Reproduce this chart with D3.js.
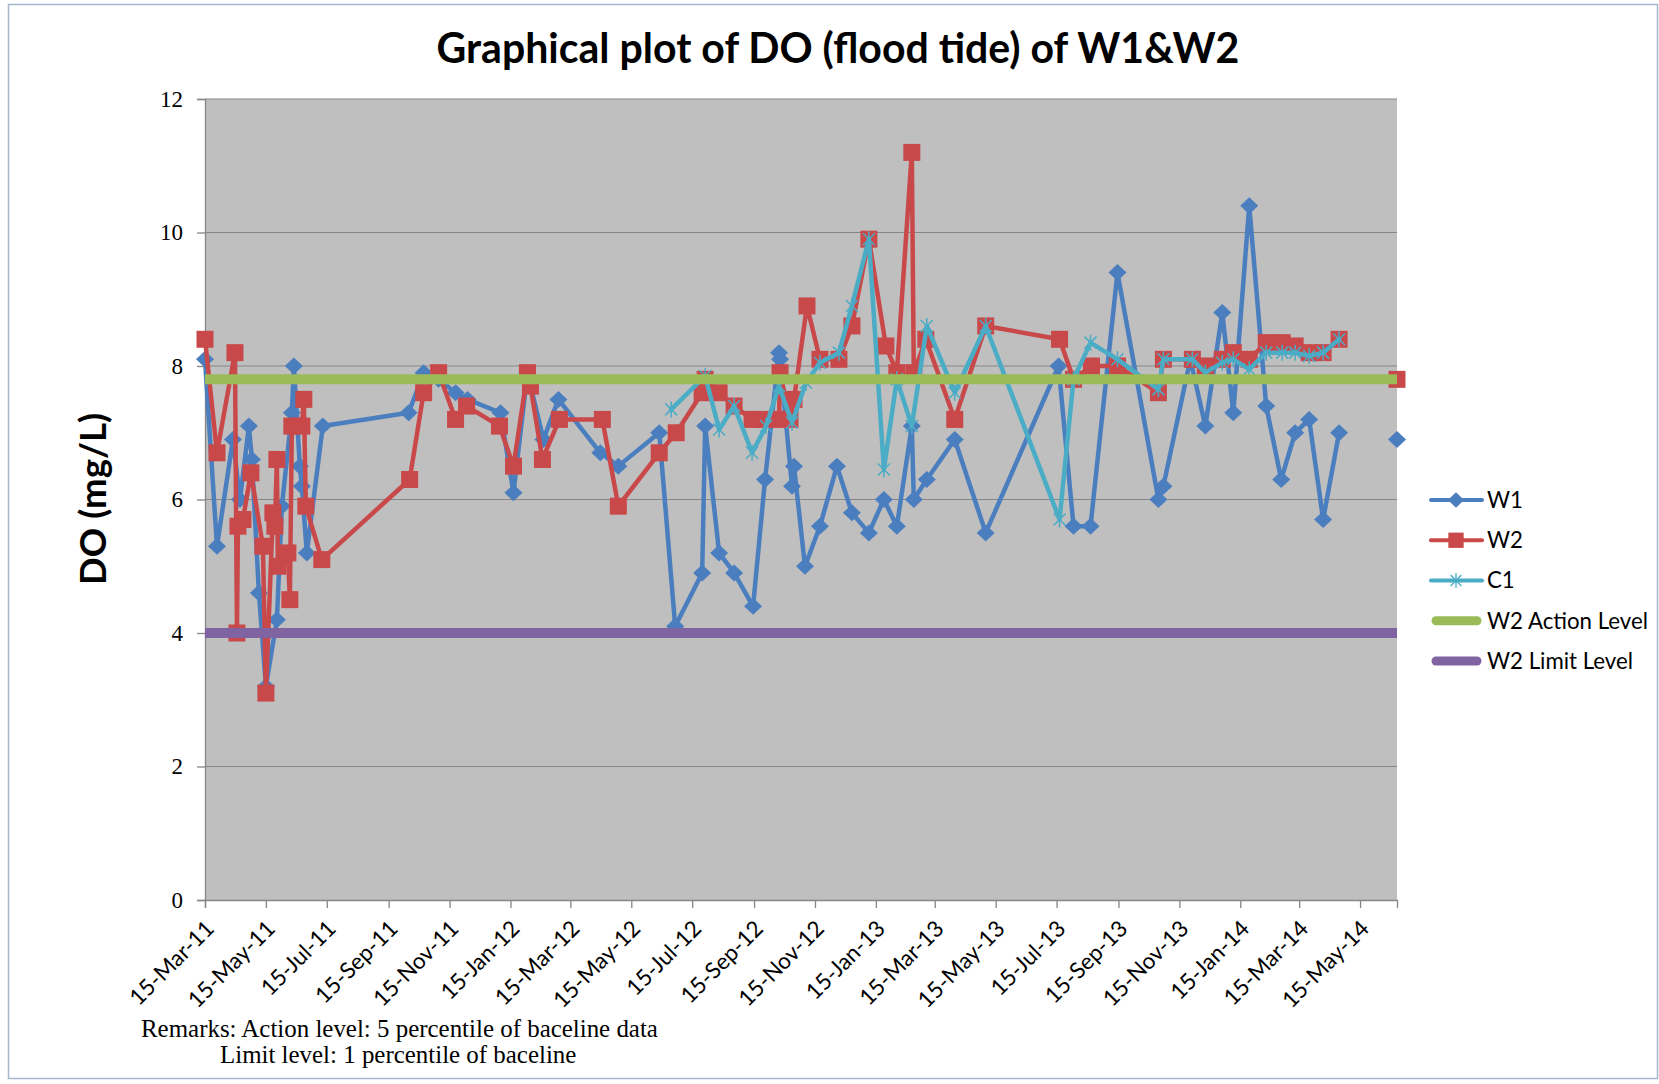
<!DOCTYPE html>
<html lang="en">
<head>
<meta charset="utf-8">
<style>
  body { margin: 0; background: #fff; }
  svg { display: block; }
</style>
</head>
<body>
<script src="https://d3js.org/d3.v7.min.js"></script>
<script>
// chart data
var chartTitle = "Graphical plot of DO (flood tide) of W1&W2";
var yTitle = "DO (mg/L)";
var yTicks = [0, 2, 4, 6, 8, 10, 12];
var xStart = "2011-03-15", xEnd = "2014-06-21";
var xTicks = ["2011-03-15", "2011-05-15", "2011-07-15", "2011-09-15", "2011-11-15",
  "2012-01-15", "2012-03-15", "2012-05-15", "2012-07-15", "2012-09-15", "2012-11-15",
  "2013-01-15", "2013-03-15", "2013-05-15", "2013-07-15", "2013-09-15", "2013-11-15",
  "2014-01-15", "2014-03-15", "2014-05-15"];

var w1Dates = ["2011-03-15", "2011-03-27", "2011-04-12", "2011-04-19", "2011-04-28", "2011-05-01",
  "2011-05-08", "2011-05-15", "2011-05-26", "2011-05-31", "2011-06-10", "2011-06-12", "2011-06-18",
  "2011-06-20", "2011-06-25", "2011-07-11",
  "2011-10-05", "2011-10-20", "2011-11-04", "2011-11-21", "2011-12-03", "2012-01-05", "2012-01-18",
  "2012-02-01", "2012-02-17", "2012-03-03", "2012-04-14", "2012-05-02", "2012-06-12", "2012-06-28",
  "2012-07-25", "2012-07-28", "2012-08-11", "2012-08-26", "2012-09-14", "2012-09-26", "2012-10-10",
  "2012-10-11", "2012-10-23", "2012-10-25", "2012-11-05", "2012-11-20", "2012-12-07", "2012-12-22",
  "2013-01-08", "2013-01-23", "2013-02-05", "2013-02-20", "2013-02-22", "2013-03-07", "2013-04-04",
  "2013-05-05", "2013-07-17", "2013-08-01", "2013-08-18", "2013-09-14", "2013-10-25", "2013-10-30",
  "2013-11-26", "2013-12-11", "2013-12-28", "2014-01-08", "2014-01-24", "2014-02-10", "2014-02-25",
  "2014-03-11", "2014-03-25", "2014-04-08", "2014-04-24", "2014-05-20", "2014-06-21"];
var w1Values = [8.1, 5.3, 6.9, 6.0, 7.1, 6.6, 4.6, 3.2, 4.2, 5.9, 7.3, 8.0, 6.5, 6.2, 5.2, 7.1,
  7.3, 7.9, 7.8, 7.6, 7.5, 7.3, 6.1, 7.9, 6.9, 7.5, 6.7, 6.5, 7.0, 4.1, 4.9, 7.1, 5.2, 4.9, 4.4,
  6.3, 8.2, 8.1, 6.2, 6.5, 5.0, 5.6, 6.5, 5.8, 5.5, 6.0, 5.6, 7.1, 6.0, 6.3, 6.9, 5.5, 8.0, 5.6,
  5.6, 9.4, 6.0, 6.2, 8.1, 7.1, 8.8, 7.3, 10.4, 7.4, 6.3, 7.0, 7.2, 5.7, 7.0, null, 6.9];

var w2Dates = ["2011-03-15", "2011-03-27", "2011-04-14", "2011-04-16", "2011-04-17", "2011-04-22",
  "2011-04-30", "2011-05-12", "2011-05-15", "2011-05-22", "2011-05-24", "2011-05-26", "2011-05-27",
  "2011-06-06", "2011-06-08", "2011-06-10", "2011-06-20", "2011-06-22", "2011-06-24", "2011-07-10",
  "2011-10-06", "2011-10-20", "2011-11-04", "2011-11-21", "2011-12-02", "2012-01-04", "2012-01-18",
  "2012-02-01", "2012-02-04", "2012-02-16", "2012-03-04", "2012-04-16", "2012-05-02", "2012-06-12",
  "2012-06-29", "2012-07-25", "2012-07-28", "2012-08-11", "2012-08-26", "2012-09-13", "2012-09-24",
  "2012-10-10", "2012-10-11", "2012-10-21", "2012-10-25", "2012-11-07", "2012-11-20", "2012-12-09",
  "2012-12-22", "2013-01-08", "2013-01-25", "2013-02-05", "2013-02-20", "2013-02-22", "2013-03-06",
  "2013-04-04", "2013-05-05", "2013-07-18", "2013-08-01", "2013-08-19", "2013-09-14", "2013-10-25",
  "2013-10-30", "2013-11-28", "2013-12-11", "2013-12-28", "2014-01-08", "2014-01-24", "2014-02-10",
  "2014-02-26", "2014-03-11", "2014-03-25", "2014-04-08", "2014-04-24", "2014-05-20", "2014-06-21"];
var w2Values = [8.4, 6.7, 8.2, 4.0, 5.6, 5.7, 6.4, 5.3, 3.1, 5.8, 5.6, 6.6, 5.0, 5.2, 4.5, 7.1,
  7.1, 7.5, 5.9, 5.1,
  6.3, 7.6, 7.9, 7.2, 7.4, 7.1, 6.5, 7.9, 7.7, 6.6, 7.2, 7.2, 5.9, 6.7, 7.0, 7.6, 7.8, 7.6, 7.4,
  7.2, 7.2, 7.2, 7.9, 7.2, 7.5, 8.9, 8.1, 8.1, 8.6, 9.9, 8.3, 7.9, 11.2, 7.9, 8.4, 7.2, 8.6, 8.4,
  7.8, 8.0, 8.0, 7.6, 8.1, 8.1, 8.0, 8.1, 8.2, 8.1, 8.35, 8.35, 8.3, 8.2, 8.2, 8.4, null, 7.8];

var c1Dates = ["2012-06-24", "2012-07-28", "2012-08-11", "2012-08-26", "2012-09-13", "2012-09-27",
  "2012-10-10", "2012-10-23", "2012-11-06", "2012-11-20", "2012-12-09", "2012-12-22", "2013-01-08",
  "2013-01-23", "2013-02-05", "2013-02-20", "2013-03-07", "2013-04-04", "2013-05-05", "2013-07-18",
  "2013-08-01", "2013-08-18", "2013-09-14", "2013-10-25", "2013-10-30", "2013-11-28", "2013-12-11",
  "2013-12-28", "2014-01-08", "2014-01-24", "2014-02-10", "2014-02-26", "2014-03-11", "2014-03-25",
  "2014-04-08", "2014-04-24"];
var c1Values = [7.35, 7.85, 7.05, 7.4, 6.7, 7.1, 7.7, 7.15, 7.75, 8.05, 8.2, 8.9, 9.9, 6.45, 7.8,
  7.1, 8.6, 7.6, 8.6, 5.7, 7.8, 8.35, 8.1, 7.65, 8.1, 8.1, 7.9, 8.05, 8.1, 7.95, 8.2, 8.2, 8.2,
  8.15, 8.2, 8.4];

var actionLevel = 7.8;
var limitLevel = 4;
var legendLabels = ["W1", "W2", "C1", "W2 Action Level", "W2 Limit Level"];
var remarks = ["Remarks: Action level: 5 percentile of baceline data",
  "Limit level: 1 percentile of baceline"];

var colors = { w1: "#4a7ebf", w2: "#c9484a", c1: "#4bacc6", action: "#9bbb59", limit: "#8064a2" };

var width = 1659, height = 1084;
var plotLeft = 205, plotRight = 1397, plotTop = 99, plotBottom = 900;

var svg = d3.select("body").append("svg")
  .attr("width", width)
  .attr("height", height);

// outer chart frame
svg.append("rect")
  .attr("x", 8.5).attr("y", 4.5)
  .attr("width", 1649).attr("height", 1074)
  .attr("fill", "#fff")
  .attr("stroke", "#a3b7cf")
  .attr("stroke-width", 1.5);

var parseDate = d3.timeParse("%Y-%m-%d");

var x = d3.scaleTime()
  .domain([parseDate(xStart), parseDate(xEnd)])
  .range([plotLeft, plotRight]);
var y = d3.scaleLinear()
  .domain([0, 12])
  .range([plotBottom, plotTop]);

// makes a font fit a measured width
function fitWidth(sel, target) {
  var w = sel.node().getComputedTextLength();
  var fs = parseFloat(sel.attr("font-size"));
  sel.attr("font-size", (fs * target / w).toFixed(2));
}

// plot area
svg.append("rect")
  .attr("x", x.range()[0]).attr("y", y(12))
  .attr("width", x.range()[1] - x.range()[0])
  .attr("height", y(0) - y(12))
  .attr("fill", "#bfbfbf");

svg.append("g").selectAll("line")
  .data(yTicks.filter(function (d) { return d > 0; }))
  .join("line")
  .attr("x1", plotLeft).attr("x2", plotRight)
  .attr("y1", function (d) { return y(d); })
  .attr("y2", function (d) { return y(d); })
  .attr("stroke", "#878787")
  .attr("stroke-width", 1.2);

// axes
var yAxis = svg.append("g")
  .attr("transform", "translate(" + plotLeft + ",0)")
  .call(d3.axisLeft(y).tickValues(yTicks).tickSize(8).tickPadding(14).tickFormat(d3.format("d")));
yAxis.selectAll("path, line").attr("stroke", "#868686").attr("stroke-width", 1.3);
yAxis.selectAll("text")
  .attr("font-family", "'Liberation Serif', serif")
  .attr("font-size", 23)
  .attr("fill", "#000");

var xAxis = svg.append("g")
  .attr("transform", "translate(0," + plotBottom + ")")
  .call(d3.axisBottom(x).tickValues(xTicks.map(parseDate)).tickSize(8)
    .tickFormat(d3.timeFormat("%d-%b-%y")));
xAxis.selectAll("path, line").attr("stroke", "#868686").attr("stroke-width", 1.3);
xAxis.selectAll("text")
  .attr("y", null).attr("dy", null)
  .attr("text-anchor", "end")
  .attr("transform", "translate(10,30) rotate(-45)")
  .attr("font-family", "Lato, sans-serif")
  .attr("font-size", 22.5)
  .attr("fill", "#000");

// series
function toPoints(dates, values) {
  return dates.map(function (d, i) { return { date: parseDate(d), value: values[i] }; });
}
var w1 = toPoints(w1Dates, w1Values);
var w2 = toPoints(w2Dates, w2Values);
var c1 = toPoints(c1Dates, c1Values);

var line = d3.line()
  .defined(function (d) { return d.value !== null; })
  .x(function (d) { return x(d.date); })
  .y(function (d) { return y(d.value); });

var diamond = "M0,-8.5L9,0L0,8.5L-9,0Z";
var square = "M-8.5,-8.5H8.5V8.5H-8.5Z";
var star = "M0,-8V8M-6,-6L6,6M-6,6L6,-6";

function drawSeries(data, color, marker, filled) {
  var g = svg.append("g");
  g.append("path")
    .datum(data)
    .attr("d", line)
    .attr("fill", "none")
    .attr("stroke", color)
    .attr("stroke-width", 4.5)
    .attr("stroke-linejoin", "round")
    .attr("stroke-linecap", "round");
  g.selectAll(".mk")
    .data(data.filter(function (d) { return d.value !== null; }))
    .join("path")
    .attr("class", "mk")
    .attr("transform", function (d) { return "translate(" + x(d.date) + "," + y(d.value) + ")"; })
    .attr("d", marker)
    .attr("fill", filled ? color : "none")
    .attr("stroke", color)
    .attr("stroke-width", filled ? 0 : 1.5);
}

drawSeries(w1, colors.w1, diamond, true);
drawSeries(w2, colors.w2, square, true);
drawSeries(c1, colors.c1, star, false);

// action and limit levels span the whole date range
[[actionLevel, colors.action], [limitLevel, colors.limit]].forEach(function (lv) {
  svg.append("line")
    .attr("x1", x(parseDate(xStart))).attr("x2", x(parseDate(xEnd)))
    .attr("y1", y(lv[0])).attr("y2", y(lv[0]))
    .attr("stroke", lv[1])
    .attr("stroke-width", 10);
});

// title
var title = svg.append("text")
  .attr("x", 838).attr("y", 63)
  .attr("text-anchor", "middle")
  .attr("font-family", "Lato, sans-serif")
  .attr("font-weight", "bold")
  .attr("font-size", 36)
  .attr("fill", "#000")
  .text(chartTitle);
fitWidth(title, 803);

var ylab = svg.append("text")
  .attr("transform", "translate(106,499) rotate(-90)")
  .attr("text-anchor", "middle")
  .attr("font-family", "Lato, sans-serif")
  .attr("font-weight", "bold")
  .attr("font-size", 36)
  .attr("fill", "#000")
  .text(yTitle);
fitWidth(ylab, 172);

// legend
var legendY = d3.scalePoint().domain(legendLabels).range([500, 661]);
var legendMarks = [
  { color: colors.w1, marker: diamond, filled: true, thick: false },
  { color: colors.w2, marker: square, filled: true, thick: false },
  { color: colors.c1, marker: star, filled: false, thick: false },
  { color: colors.action, marker: null, thick: true },
  { color: colors.limit, marker: null, thick: true }
];
var legend = svg.append("g");
var legendFont = 22;
legendLabels.forEach(function (lab, i) {
  var m = legendMarks[i];
  var ly = legendY(lab);
  legend.append("line")
    .attr("x1", m.thick ? 1436 : 1431).attr("x2", m.thick ? 1477 : 1482)
    .attr("y1", ly).attr("y2", ly)
    .attr("stroke", m.color)
    .attr("stroke-width", m.thick ? 9 : 4)
    .attr("stroke-linecap", "round");
  if (m.marker) {
    legend.append("path")
      .attr("transform", "translate(1456," + ly + ") scale(0.9)")
      .attr("d", m.marker)
      .attr("fill", m.filled ? m.color : "none")
      .attr("stroke", m.color)
      .attr("stroke-width", m.filled ? 0 : 1.5);
  }
  var t = legend.append("text")
    .attr("x", 1487).attr("y", ly)
    .attr("dy", "0.35em")
    .attr("font-family", "Lato, sans-serif")
    .attr("font-size", legendFont)
    .attr("fill", "#000")
    .text(lab);
  if (lab === "W2 Action Level") {
    fitWidth(t, 161);
    legendFont = +t.attr("font-size");
  }
});
legend.selectAll("text").attr("font-size", legendFont);

// remarks under the axis
var r1 = svg.append("text")
  .attr("x", 141).attr("y", 1037)
  .attr("font-family", "'Liberation Serif', serif")
  .attr("font-size", 22)
  .attr("fill", "#000")
  .text(remarks[0]);
fitWidth(r1, 517);
svg.append("text")
  .attr("x", 220).attr("y", 1063)
  .attr("font-family", "'Liberation Serif', serif")
  .attr("font-size", r1.attr("font-size"))
  .attr("fill", "#000")
  .text(remarks[1]);
</script>
</body>
</html>
